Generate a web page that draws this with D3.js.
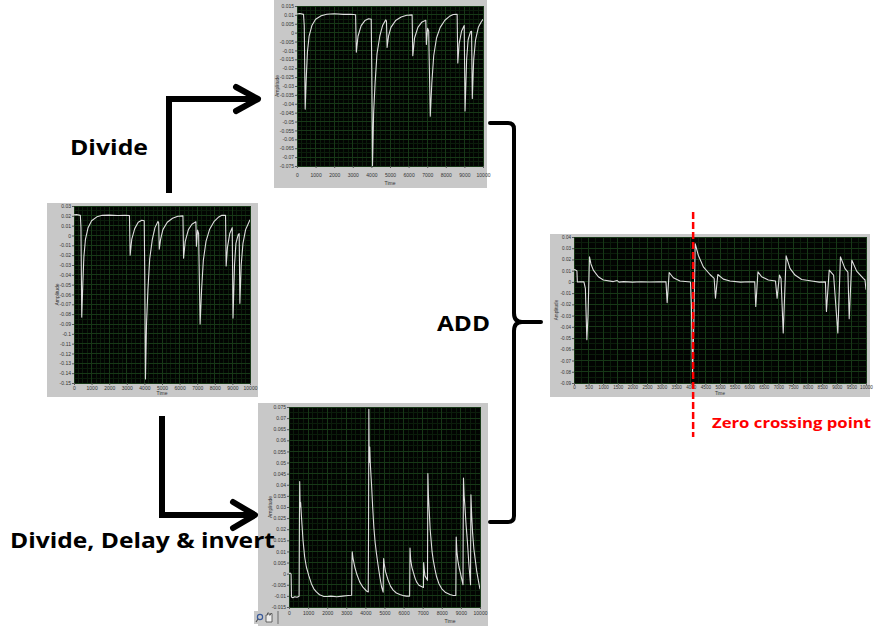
<!DOCTYPE html>
<html>
<head>
<meta charset="utf-8">
<script src="https://cdn.jsdelivr.net/npm/d3@7"></script>
<style>
  html, body { margin: 0; padding: 0; background: #ffffff; }
  svg { display: block; }
</style>
</head>
<body>
<svg id="fig" width="875" height="626"></svg>
<script>
// ---------- signal samples: [time, amplitude] ----------
// Input waveform (left graph)
const originalSignal = [
  [0, 0.021], [150, 0.0212], [360, 0.0205], [395, 0.008], [440, -0.083], [500, -0.05], [560, -0.022],
  [650, -0.004], [800, 0.008], [1000, 0.015], [1300, 0.019], [1600, 0.0205], [2000, 0.0207],
  [2500, 0.0204], [2900, 0.0206], [3150, 0.0203], [3190, -0.02], [3280, -0.004], [3450, 0.007],
  [3650, 0.0135], [3850, 0.0155], [3990, 0.015], [4020, -0.04], [4060, -0.146], [4120, -0.09],
  [4200, -0.055], [4300, -0.024], [4450, -0.004], [4600, 0.008], [4770, 0.0143], [4810, 0.013],
  [4845, -0.014], [4920, -0.004], [5050, 0.006], [5300, 0.0135], [5600, 0.0175], [5900, 0.0195],
  [6190, 0.02], [6225, -0.023], [6320, -0.006], [6500, 0.006], [6700, 0.0115], [6925, 0.014],
  [6955, -0.011], [7020, 0.0055], [7080, 0.002], [7165, -0.09], [7250, -0.055], [7350, -0.025],
  [7500, -0.006], [7700, 0.006], [7950, 0.014], [8200, 0.0185], [8400, 0.0205], [8610, 0.0205],
  [8645, -0.031], [8720, -0.012], [8850, 0.002], [8990, 0.008], [9035, -0.084], [9120, -0.03],
  [9200, -0.008], [9330, 0.001], [9385, 0.002], [9425, -0.069], [9500, -0.03], [9600, -0.008],
  [9750, 0.006], [9900, 0.012], [10000, 0.016]
];

// Divided waveform (top graph)
const divideSignal = [
  [0, 0.0105], [150, 0.0108], [350, 0.0103], [390, 0.004], [440, -0.043], [500, -0.025], [560, -0.011],
  [650, -0.002], [800, 0.004], [1000, 0.0075], [1300, 0.0095], [1600, 0.0104], [2000, 0.0106],
  [2500, 0.0103], [2900, 0.0104], [3150, 0.0101], [3190, -0.011], [3280, -0.002], [3450, 0.004],
  [3650, 0.0068], [3850, 0.0078], [3990, 0.0075], [4020, -0.02], [4060, -0.075], [4120, -0.045],
  [4200, -0.028], [4300, -0.012], [4450, -0.002], [4600, 0.004], [4770, 0.0072], [4810, 0.0065],
  [4845, -0.0083], [4920, -0.002], [5050, 0.003], [5300, 0.0068], [5600, 0.0088], [5900, 0.0098],
  [6190, 0.01], [6225, -0.013], [6320, -0.003], [6500, 0.003], [6700, 0.0058], [6925, 0.007],
  [6955, -0.0066], [7020, 0.0025], [7080, 0.001], [7165, -0.047], [7250, -0.028], [7350, -0.013],
  [7500, -0.003], [7700, 0.003], [7950, 0.007], [8200, 0.0092], [8400, 0.0102], [8610, 0.0103],
  [8645, -0.017], [8720, -0.006], [8850, 0.001], [8990, 0.004], [9035, -0.044], [9120, -0.015],
  [9200, -0.004], [9330, 0.0005], [9385, 0.0008], [9425, -0.037], [9500, -0.015], [9600, -0.004],
  [9750, 0.003], [9900, 0.006], [10000, 0.0075]
];

// Divided, delayed and inverted waveform (bottom graph)
const delayedSignal = [
  [0, 0.0], [60, 0.0003], [110, -0.0002], [130, -0.0105], [200, -0.0108], [300, -0.0104],
  [420, -0.0106], [530, -0.0102], [545, 0.02], [560, 0.0415], [585, 0.03], [610, 0.032],
  [650, 0.026], [734, 0.015], [820, 0.0075], [909, 0.003], [1040, -0.001], [1171, -0.0045],
  [1300, -0.0068], [1434, -0.0082], [1600, -0.0095], [1800, -0.0102], [1960, -0.0103],
  [2200, -0.0101], [2500, -0.0104], [2800, -0.0101], [3100, -0.0098], [3280, -0.0097],
  [3295, 0.004], [3310, 0.0098], [3350, 0.007], [3444, 0.003], [3560, -0.0005], [3706, -0.0038],
  [3880, -0.0062], [4056, -0.0078], [4150, -0.0082], [4165, 0.02], [4180, 0.074], [4200, 0.05],
  [4225, 0.057], [4260, 0.049], [4318, 0.0407], [4380, 0.03], [4441, 0.021], [4510, 0.014],
  [4580, 0.009], [4660, 0.004], [4755, -0.0014], [4850, -0.006], [4930, -0.0083], [4940, 0.0],
  [4955, 0.0068], [4985, 0.0045], [5050, 0.001], [5192, -0.003], [5320, -0.0057], [5455, -0.0074],
  [5620, -0.0087], [5804, -0.0094], [6000, -0.0099], [6150, -0.0101], [6315, -0.0101], [6325, 0.0],
  [6335, 0.0115], [6370, 0.0065], [6430, 0.003], [6503, 0.0008], [6600, -0.002], [6678, -0.0037],
  [6800, -0.0052], [7040, -0.0062], [7050, 0.005], [7080, 0.002], [7120, -0.001], [7250, -0.003],
  [7260, 0.02], [7270, 0.045], [7300, 0.035], [7340, 0.0286], [7390, 0.02], [7440, 0.015],
  [7490, 0.01], [7552, 0.0061], [7640, 0.002], [7727, -0.0014], [7850, -0.0045], [7990, -0.0067],
  [8200, -0.0085], [8427, -0.0094], [8600, -0.0098], [8735, -0.0098], [8745, 0.005], [8755, 0.0165],
  [8790, 0.01], [8840, 0.006], [8900, 0.003], [8970, 0.0005], [9110, -0.005], [9120, 0.02],
  [9135, 0.043], [9170, 0.035], [9213, 0.03], [9270, 0.022], [9336, 0.015], [9420, 0.004],
  [9505, -0.005], [9510, 0.01], [9525, 0.0355], [9565, 0.026], [9615, 0.018], [9680, 0.011],
  [9755, 0.0061], [9830, 0.001], [9913, -0.003], [10000, -0.007]
];

// Sum of the top and bottom waveforms (right graph)
const sumSignal = [
  [0, 0.011], [60, 0.0105], [100, 0.0098], [115, 0.0], [200, 0.0002], [340, 0.0], [390, -0.006],
  [440, -0.0514], [480, -0.03], [530, 0.0223], [580, 0.016], [662, 0.0105], [833, 0.0046],
  [1005, 0.0017], [1347, 0.0003], [1480, 0.0012], [1540, -0.0002], [1700, 0.0003], [2000, -0.0002],
  [2300, 0.0002], [2600, -0.0001], [2900, 0.0002], [3150, 0.0], [3190, -0.0184], [3260, 0.0084],
  [3402, 0.0037], [3630, 0.0008], [3990, 0.0], [4020, -0.02], [4060, -0.083], [4110, -0.03],
  [4150, 0.034], [4257, 0.0238], [4429, 0.0134], [4657, 0.0066], [4800, 0.0031], [4845, -0.0146],
  [4925, 0.0066], [5114, 0.0025], [5342, 0.0008], [5700, -0.0002], [6000, 0.0002], [6190, 0.0],
  [6225, -0.0219], [6300, 0.009], [6427, 0.0046], [6655, 0.0017], [6900, 0.0008], [6955, -0.0146],
  [7035, 0.0061], [7090, 0.0031], [7165, -0.0455], [7265, 0.0232], [7397, 0.012], [7568, 0.0061],
  [7797, 0.0022], [8139, 0.0008], [8400, -0.0002], [8610, 0.0], [8645, -0.0263], [8740, 0.0105],
  [8890, 0.0061], [9035, -0.0455], [9125, 0.0223], [9281, 0.0118], [9380, 0.0087], [9425, -0.0328],
  [9515, 0.0194], [9680, 0.0096], [9908, 0.0031], [9966, 0.0017], [10000, -0.007]
];

// ---------- axis ticks ----------
const timeTicks = [0, 1000, 2000, 3000, 4000, 5000, 6000, 7000, 8000, 9000, 10000];
const timeTicksFine = [0, 500, 1000, 1500, 2000, 2500, 3000, 3500, 4000, 4500, 5000,
  5500, 6000, 6500, 7000, 7500, 8000, 8500, 9000, 9500, 10000];
const divideTicks = [0.015, 0.01, 0.005, 0, -0.005, -0.01, -0.015, -0.02, -0.025, -0.03, -0.035,
  -0.04, -0.045, -0.05, -0.055, -0.06, -0.065, -0.07, -0.075];
const originalTicks = [0.03, 0.02, 0.01, 0, -0.01, -0.02, -0.03, -0.04, -0.05, -0.06, -0.07,
  -0.08, -0.09, -0.1, -0.11, -0.12, -0.13, -0.14, -0.15];
const delayedTicks = [0.075, 0.07, 0.065, 0.06, 0.055, 0.05, 0.045, 0.04, 0.035, 0.03, 0.025,
  0.02, 0.015, 0.01, 0.005, 0, -0.005, -0.01, -0.015];
const sumTicks = [0.04, 0.03, 0.02, 0.01, 0, -0.01, -0.02, -0.03, -0.04, -0.05, -0.06, -0.07,
  -0.08, -0.09];

// Time of the marked zero crossing on the sum graph
const zeroCrossingTime = 4080;

// ---------- text ----------
const labels = {
  divide: "Divide",
  delay: "Divide, Delay & invert",
  add: "ADD",
  zero: "Zero crossing point",
  amp: "Amplitude",
  time: "Time"
};

// ---------- drawing ----------
const svg = d3.select("#fig");
const fmt = v => String(+v.toFixed(4));

function drawGraph(cfg) {
  const g = svg.append("g");
  const [fx0, fy0, fx1, fy1] = cfg.frame;
  const [px0, py0, px1, py1] = cfg.plot;

  g.append("rect").attr("x", fx0).attr("y", fy0).attr("width", fx1 - fx0).attr("height", fy1 - fy0)
    .attr("fill", "#c8c8c8");

  const x = d3.scaleLinear().domain([0, 10000]).range([px0, px1]);
  const yt = cfg.yTicks;
  const y = d3.scaleLinear().domain([d3.min(yt), d3.max(yt)]).range([py1, py0]);

  g.append("rect").attr("x", px0).attr("y", py0).attr("width", px1 - px0).attr("height", py1 - py0)
    .attr("fill", "#020402");

  // minor grid
  const xStep = cfg.xTicks[1] - cfg.xTicks[0];
  const yStep = Math.abs(yt[0] - yt[1]);
  const xMinor = d3.range(0, 10000, xStep / cfg.xSub).filter(v => v % xStep !== 0);
  const yMinor = d3.range(d3.min(yt), d3.max(yt), yStep / 2).map(v => +v.toFixed(6))
    .filter(v => !yt.some(t => Math.abs(t - v) < 1e-9));
  const grid = g.append("g").attr("shape-rendering", "crispEdges");
  grid.selectAll(".xm").data(xMinor).join("line")
    .attr("x1", d => x(d)).attr("x2", d => x(d)).attr("y1", py0).attr("y2", py1)
    .attr("stroke", "#0b1d0b").attr("stroke-width", 1);
  grid.selectAll(".ym").data(yMinor).join("line")
    .attr("y1", d => y(d)).attr("y2", d => y(d)).attr("x1", px0).attr("x2", px1)
    .attr("stroke", "#0b1d0b").attr("stroke-width", 1);
  // major grid
  grid.selectAll(".xM").data(cfg.xTicks).join("line")
    .attr("x1", d => x(d)).attr("x2", d => x(d)).attr("y1", py0).attr("y2", py1)
    .attr("stroke", "#173817").attr("stroke-width", 1);
  grid.selectAll(".yM").data(yt).join("line")
    .attr("y1", d => y(d)).attr("y2", d => y(d)).attr("x1", px0).attr("x2", px1)
    .attr("stroke", "#173817").attr("stroke-width", 1);

  // trace
  const clipId = "clip-" + cfg.id;
  g.append("clipPath").attr("id", clipId).append("rect")
    .attr("x", px0).attr("y", py0).attr("width", px1 - px0).attr("height", py1 - py0);
  g.append("path").datum(cfg.data)
    .attr("clip-path", `url(#${clipId})`)
    .attr("fill", "none").attr("stroke", "#dedede").attr("stroke-width", 1.1)
    .attr("stroke-linejoin", "round")
    .attr("d", d3.line().x(d => x(d[0])).y(d => y(d[1])));

  // axes
  const yAxis = g.append("g").attr("transform", `translate(${px0},0)`)
    .call(d3.axisLeft(y).tickValues(yt).tickFormat(fmt).tickSize(2).tickPadding(1));
  const xAxis = g.append("g").attr("transform", `translate(0,${py1})`)
    .call(d3.axisBottom(x).tickValues(cfg.xTicks).tickFormat(d => String(d)).tickSize(2)
      .tickPadding(cfg.xPad));
  [yAxis, xAxis].forEach(a => {
    a.select(".domain").remove();
    a.selectAll("line").attr("stroke", "#555");
    a.selectAll("text").attr("font-family", "Liberation Sans, Arial, sans-serif")
      .attr("font-size", cfg.fs).attr("fill", "#333");
  });

  g.append("text").attr("transform", `translate(${cfg.ampX},${(py0 + py1) / 2}) rotate(-90)`)
    .attr("text-anchor", "middle").attr("dominant-baseline", "central")
    .attr("font-family", "Liberation Sans, Arial, sans-serif").attr("font-size", cfg.fs)
    .attr("fill", "#333").text(labels.amp);
  g.append("text").attr("x", cfg.timeX || (px0 + px1) / 2).attr("y", cfg.timeY)
    .attr("text-anchor", "middle").attr("dominant-baseline", "central")
    .attr("font-family", "Liberation Sans, Arial, sans-serif").attr("font-size", cfg.fs)
    .attr("fill", "#333").text(labels.time);

  return { x, y };
}

drawGraph({ id: "divide", data: divideSignal, yTicks: divideTicks, xTicks: timeTicks, xSub: 4,
  frame: [274, 0, 487, 188], plot: [297, 6, 483, 166], ampX: 277, timeY: 183, xPad: 5, fs: 5 });
drawGraph({ id: "original", data: originalSignal, yTicks: originalTicks, xTicks: timeTicks, xSub: 4,
  frame: [47, 203, 258, 397], plot: [74, 206, 250, 383], ampX: 57, timeY: 393, xPad: 1, fs: 5 });
drawGraph({ id: "delayed", data: delayedSignal, yTicks: delayedTicks, xTicks: timeTicks, xSub: 4,
  frame: [258, 403, 488, 626], plot: [289, 407, 480, 607], ampX: 270, timeY: 621, timeX: 450, xPad: 2, fs: 5 });
const sumScales = drawGraph({ id: "sum", data: sumSignal, yTicks: sumTicks, xTicks: timeTicksFine, xSub: 2,
  frame: [550, 234, 870, 397], plot: [574, 237, 866, 383], ampX: 556, timeY: 393, xPad: 1, fs: 4.6 });

// graph toolbar icons (bottom graph)
const tb = svg.append("g");
tb.append("rect").attr("x", 254).attr("y", 611).attr("width", 28).attr("height", 13).attr("fill", "#c8c8c8");
tb.append("circle").attr("cx", 260).attr("cy", 617).attr("r", 2.6).attr("fill", "none").attr("stroke", "#3a5a9a").attr("stroke-width", 1.2);
tb.append("line").attr("x1", 258).attr("y1", 619).attr("x2", 256).attr("y2", 622).attr("stroke", "#555").attr("stroke-width", 1.2);
tb.append("path").attr("d", "M266,622 V615 h1.5 V613 h1.5 V615 h1.5 V613.5 h1.5 V622 Z").attr("fill", "#eee").attr("stroke", "#444").attr("stroke-width", 0.8);
tb.append("rect").attr("x", 277).attr("y", 611).attr("width", 2).attr("height", 13).attr("fill", "#999");

// ---------- arrows and brace ----------
const ink = svg.append("g").attr("fill", "none").attr("stroke", "#000");
ink.append("path").attr("d", "M169,193 V99 H257").attr("stroke-width", 6).attr("stroke-linejoin", "miter");
ink.append("path").attr("d", "M236,87 L258,99 L236,111").attr("stroke-width", 6)
  .attr("stroke-linecap", "round").attr("stroke-linejoin", "round");
ink.append("path").attr("d", "M162,416 V515 H254").attr("stroke-width", 6).attr("stroke-linejoin", "miter");
ink.append("path").attr("d", "M233,502 L255,515 L233,528").attr("stroke-width", 6)
  .attr("stroke-linecap", "round").attr("stroke-linejoin", "round");
ink.append("path")
  .attr("d", "M490,123 H508 Q514,123 514,129 V313 Q514,322 522,322 H541 M522,322 Q514,322 514,331 V516 Q514,522 508,522 H490")
  .attr("stroke-width", 4).attr("stroke-linecap", "round");

// ---------- text labels ----------
const bold = svg.append("g").attr("font-family", "Open Sans, Liberation Sans, sans-serif")
  .attr("font-weight", "bold").attr("fill", "#000");
bold.append("text").attr("x", 70).attr("y", 155).attr("font-size", 21)
  .attr("textLength", 78).attr("lengthAdjust", "spacingAndGlyphs").text(labels.divide);
bold.append("text").attr("x", 437).attr("y", 331).attr("font-size", 21)
  .attr("textLength", 53).attr("lengthAdjust", "spacingAndGlyphs").text(labels.add);
bold.append("text").attr("x", 10).attr("y", 548).attr("font-size", 21)
  .attr("textLength", 265).attr("lengthAdjust", "spacingAndGlyphs").text(labels.delay);

// ---------- zero crossing marker ----------
const zx = sumScales.x(zeroCrossingTime);
svg.append("line").attr("x1", zx).attr("x2", zx).attr("y1", 212).attr("y2", 437)
  .attr("stroke", "#ff0000").attr("stroke-width", 2.5).attr("stroke-dasharray", "7,3");
svg.append("text").attr("x", 712).attr("y", 428)
  .attr("font-family", "Open Sans, Liberation Sans, sans-serif").attr("font-weight", "bold")
  .attr("font-size", 14).attr("fill", "#ff0000")
  .attr("textLength", 159).attr("lengthAdjust", "spacingAndGlyphs").text(labels.zero);
</script>
</body>
</html>
